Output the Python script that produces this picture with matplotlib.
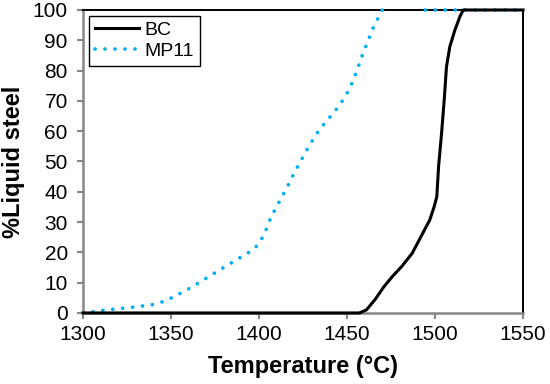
import numpy as np
from matplotlib import pyplot as plt

plt.rcParams['font.family'] = ['Liberation Sans', 'DejaVu Sans']

# BC curve (solid black)
bc_t = [1300, 1457, 1461, 1466, 1471, 1476, 1481, 1487, 1492, 1497, 1499.5, 1501,
        1502, 1503.7, 1505.2, 1506.5, 1508.4, 1511.3, 1514.1, 1516, 1550]
bc_y = [0, 0, 1, 4.5, 8.7, 12.2, 15.3, 19.7, 25.2, 30.7, 35.1, 38.4,
        48.3, 59.3, 70.3, 81.3, 87.9, 93.4, 97.8, 100, 100]

# MP11 curve (blue dotted), gap along the top before it reappears
mp_t = [1300, 1307, 1313, 1320, 1330, 1340, 1347, 1352, 1357, 1362, 1367, 1372,
        1377, 1382, 1387, 1392, 1397, 1400, 1403, 1405, 1407, 1410, 1412.6, 1415.4,
        1417.9, 1420.5, 1423.2, 1425.9, 1428.7, 1431.7, 1435, 1438.6, 1442.2,
        1445.8, 1448.8, 1451.7, 1453.8, 1455.9, 1457.7, 1459.6, 1461.9, 1464,
        1466.3, 1469.1, 1470, np.nan, 1494.5, 1550]
mp_y = [0, 0.5, 1, 1.4, 2.0, 2.8, 4.0, 5.5, 7.0, 8.6, 10.4, 12.2,
        14, 15.7, 17.5, 19.2, 21, 23, 26, 29, 32, 35, 38, 40.8,
        43.8, 46.8, 49.6, 52.6, 55.3, 58.3, 61, 63.5, 66,
        68.6, 71.4, 74.3, 77.3, 80.4, 83.5, 86.6, 89.7, 93,
        96, 98.7, 100, np.nan, 100, 100]

fig = plt.figure(figsize=(5.5, 3.84), dpi=100)
ax = fig.add_axes([0.151, 0.185, 0.800, 0.789])

ax.plot(mp_t, mp_y, color='#00B0F0', lw=2.7, linestyle=(0, (0.01, 2.65)),
        dash_capstyle='round', label='MP11', clip_on=False, zorder=3)
ax.plot(bc_t, bc_y, color='black', lw=2.2, label='BC', clip_on=False, zorder=4)

ax.set_xlim(1300, 1550)
ax.set_ylim(0, 100)
ax.set_xticks(np.arange(1300, 1551, 50))
ax.set_yticks(np.arange(0, 101, 10))
ax.tick_params(labelsize=15, direction='out', length=4, width=1.5, color='#868686')
ax.tick_params(axis='x', pad=5)
ax.tick_params(axis='y', pad=7)

for s in ['left', 'bottom']:
    ax.spines[s].set_color('#868686')
    ax.spines[s].set_linewidth(1.8)
for s in ['top', 'right']:
    ax.spines[s].set_color('black')
    ax.spines[s].set_linewidth(1.4)

ax.set_xlabel('Temperature (°C)', fontsize=17, fontweight='bold')
ax.set_ylabel('%Liquid steel', fontsize=17, fontweight='bold')
ax.xaxis.set_label_coords(0.5, -0.14)
ax.yaxis.set_label_coords(-0.132, 0.5)

h, l = ax.get_legend_handles_labels()
leg = ax.legend(h[::-1], l[::-1], loc='upper left', fontsize=14, handlelength=2.3,
                handletextpad=0.25, borderpad=0.3, labelspacing=0.15,
                fancybox=False, framealpha=1, borderaxespad=0.3)
leg.get_frame().set_edgecolor('black')
leg.get_frame().set_linewidth(1.0)

fig.savefig('out.png', dpi=100)
